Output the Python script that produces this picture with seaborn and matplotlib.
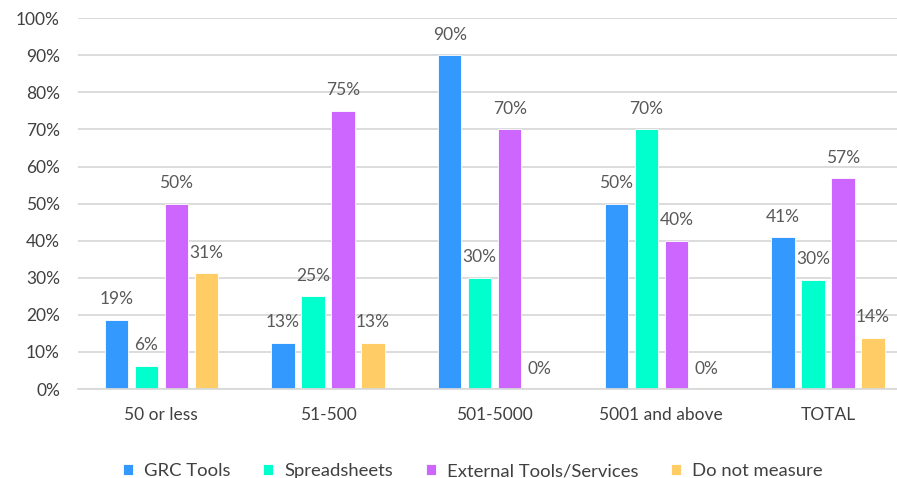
import matplotlib
matplotlib.use("Agg")
import matplotlib.pyplot as plt
import seaborn as sns
import pandas as pd
from matplotlib.ticker import PercentFormatter, MultipleLocator

categories = ["50 or less", "51-500", "501-5000", "5001 and above", "TOTAL"]
series_names = ["GRC Tools", "Spreadsheets", "External Tools/Services", "Do not measure"]
grc_tools = [18.75, 12.5, 90, 50, 41]
spreadsheets = [6.25, 25, 30, 70, 29.5]
external = [50, 75, 70, 40, 56.8]
do_not_measure = [31.25, 12.5, 0, 0, 13.8]
colors = ["#3399FF", "#00FFCC", "#CC66FF", "#FFCC66"]

rows = []
for name, vals in zip(series_names, [grc_tools, spreadsheets, external, do_not_measure]):
    for c, v in zip(categories, vals):
        rows.append({"category": c, "series": name, "value": v})
df = pd.DataFrame(rows)

sns.set_theme(style="white")
plt.rcParams["font.family"] = ["Lato", "DejaVu Sans"]

fig = plt.figure(figsize=(8.97, 4.78), dpi=100)
ax = fig.add_axes([0.087, 0.186, 0.913, 0.776])

sns.barplot(data=df, x="category", y="value", hue="series", order=categories,
            hue_order=series_names, palette=colors, saturation=1, width=0.72, gap=0.22,
            edgecolor="white", linewidth=0.6, ax=ax, legend=True)

for container in ax.containers:
    labels = [f"{int(b.get_height() + 0.5)}%" for b in container]
    ax.bar_label(container, labels=labels, padding=9, fontsize=12.5, color="#595959")

ax.set_ylim(0, 100)
ax.set_xlim(-0.5, 4.414)
ax.yaxis.set_major_locator(MultipleLocator(10))
ax.yaxis.set_major_formatter(PercentFormatter(decimals=0))
ax.grid(axis="y", color="#D9D9D9", linewidth=1.3)
ax.set_axisbelow(True)
for s in ["top", "right", "left"]:
    ax.spines[s].set_visible(False)
ax.spines["bottom"].set_color("#D9D9D9")
ax.spines["bottom"].set_linewidth(1.3)
ax.tick_params(axis="y", length=0, labelsize=12.5, colors="#404040", pad=13)
ax.tick_params(axis="x", length=0, labelsize=12.5, colors="#404040", pad=13)
ax.set_xlabel("")
ax.set_ylabel("")

leg = ax.legend(loc="upper center", bbox_to_anchor=(0.482, -0.155), ncol=4, frameon=False,
                fontsize=13.3, handlelength=0.55, handleheight=0.55, columnspacing=1.75,
                handletextpad=0.6, labelcolor="#404040")

fig.savefig("out.png", dpi=100)
